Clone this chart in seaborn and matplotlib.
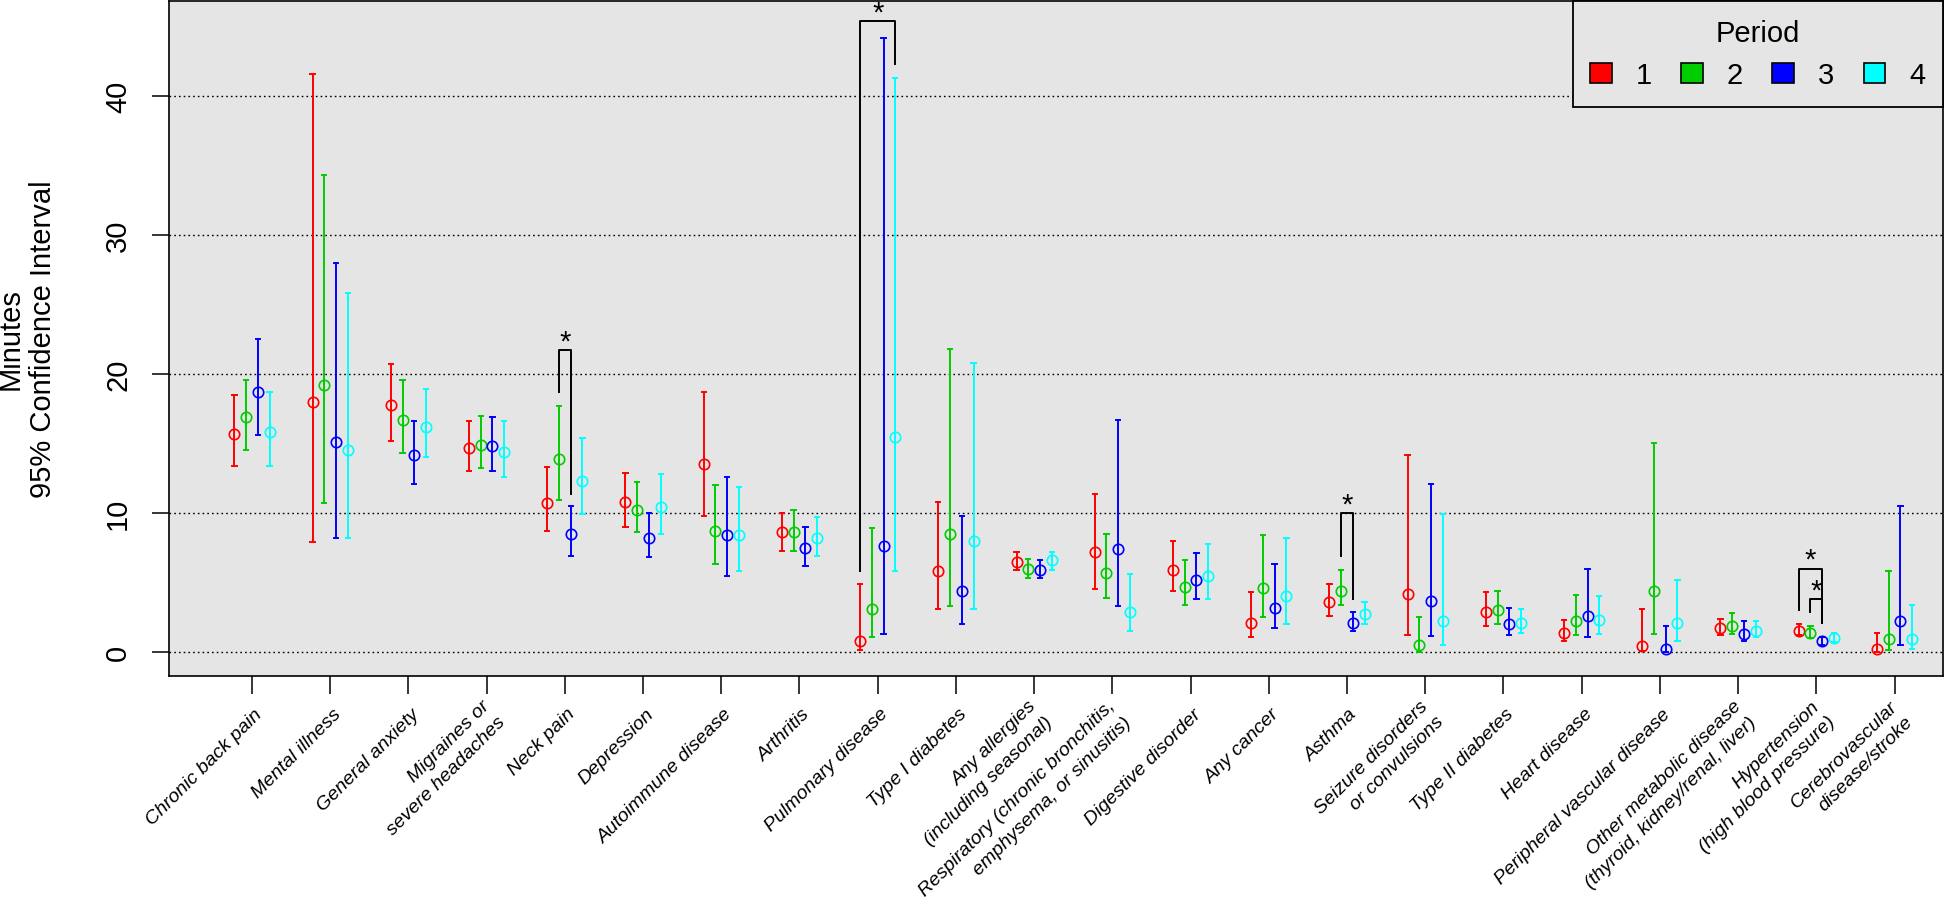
import numpy as np
import pandas as pd
import matplotlib
matplotlib.use("Agg")
import matplotlib.pyplot as plt
from matplotlib.patches import Patch
from matplotlib.transforms import ScaledTranslation
import seaborn as sns

# ---------------- data ----------------
categories = [
    "Chronic back pain", "Mental illness", "General anxiety",
    "Migraines or\nsevere headaches", "Neck pain", "Depression",
    "Autoimmune disease", "Arthritis", "Pulmonary disease", "Type I diabetes",
    "Any allergies\n(including seasonal)",
    "Respiratory (chronic bronchitis,\nemphysema, or sinusitis)",
    "Digestive disorder", "Any cancer", "Asthma",
    "Seizure disorders\nor convulsions", "Type II diabetes", "Heart disease",
    "Peripheral vascular disease",
    "Other metabolic disease\n(thyroid, kidney/renal, liver)",
    "Hypertension\n(high blood pressure)", "Cerebrovascular\ndisease/stroke",
]
periods = ["1", "2", "3", "4"]

p1_mid = [15.7, 18.0, 17.8, 14.7, 10.7, 10.8, 13.5, 8.6, 0.8, 5.8, 6.5, 7.2, 5.9, 2.1, 3.6, 4.2, 2.9, 1.4, 0.4, 1.7, 1.5, 0.25]
p1_lo = [13.4, 7.9, 15.2, 13.0, 8.7, 9.0, 9.8, 7.3, 0.15, 3.1, 5.9, 4.5, 4.4, 1.1, 2.6, 1.2, 1.9, 0.8, 0.1, 1.2, 1.2, 0.0]
p1_hi = [18.5, 41.6, 20.7, 16.6, 13.3, 12.9, 18.7, 10.0, 4.9, 10.8, 7.2, 11.4, 8.0, 4.3, 4.9, 14.2, 4.3, 2.3, 3.1, 2.4, 2.0, 1.4]

p2_mid = [16.9, 19.2, 16.7, 14.9, 13.9, 10.2, 8.7, 8.6, 3.1, 8.5, 6.0, 5.7, 4.7, 4.6, 4.4, 0.5, 3.0, 2.2, 4.4, 1.9, 1.4, 0.9]
p2_lo = [14.5, 10.7, 14.3, 13.2, 10.9, 8.6, 6.3, 7.3, 1.1, 3.3, 5.3, 3.9, 3.4, 2.5, 3.4, 0.03, 2.0, 1.2, 1.3, 1.3, 1.0, 0.15]
p2_hi = [19.6, 34.3, 19.6, 17.0, 17.7, 12.2, 12.0, 10.2, 8.9, 21.8, 6.7, 8.5, 6.6, 8.4, 5.9, 2.5, 4.4, 4.1, 15.0, 2.8, 1.9, 5.8]

p3_mid = [18.7, 15.1, 14.2, 14.8, 8.5, 8.2, 8.4, 7.5, 7.6, 4.4, 5.9, 7.4, 5.2, 3.2, 2.1, 3.7, 2.0, 2.6, 0.2, 1.3, 0.8, 2.2]
p3_lo = [15.6, 8.2, 12.1, 13.0, 6.9, 6.8, 5.5, 6.2, 1.3, 2.0, 5.3, 3.3, 3.8, 1.7, 1.5, 1.15, 1.2, 1.1, 0.03, 0.8, 0.5, 0.5]
p3_hi = [22.5, 28.0, 16.6, 16.9, 10.5, 10.0, 12.6, 9.0, 44.2, 9.8, 6.6, 16.7, 7.1, 6.3, 2.9, 12.1, 3.2, 6.0, 1.9, 2.2, 1.1, 10.5]

p4_mid = [15.8, 14.5, 16.2, 14.4, 12.3, 10.4, 8.4, 8.2, 15.5, 8.0, 6.6, 2.9, 5.5, 4.0, 2.7, 2.2, 2.1, 2.3, 2.1, 1.5, 1.0, 0.9]
p4_lo = [13.4, 8.2, 14.0, 12.6, 9.9, 8.5, 5.8, 6.9, 5.8, 3.1, 5.9, 1.5, 3.8, 2.0, 2.0, 0.5, 1.4, 1.3, 0.8, 1.1, 0.7, 0.25]
p4_hi = [18.7, 25.8, 18.9, 16.6, 15.4, 12.8, 11.9, 9.7, 41.3, 20.8, 7.2, 5.6, 7.8, 8.2, 3.6, 9.9, 3.1, 4.0, 5.2, 2.2, 1.4, 3.4]

# significance brackets: (category, left period, right period, top, left leg end, right leg end)
sig_cat = ["Neck pain", "Pulmonary disease", "Asthma",
           "Hypertension\n(high blood pressure)", "Hypertension\n(high blood pressure)"]
sig_left = ["2", "1", "2", "1", "2"]
sig_right = ["3", "4", "3", "3", "3"]
sig_top = [21.7, 45.4, 10.0, 6.0, 3.8]
sig_left_end = [18.7, 5.8, 6.9, 3.0, 2.9]
sig_right_end = [11.4, 42.3, 3.8, 2.1, 2.1]

colors = {"1": "#FF0000", "2": "#00CD00", "3": "#0000FF", "4": "#00FFFF"}
bg = "#E5E5E5"

# long table: low / mid / high per group -> median = estimate, 100% interval = CI
mids = [p1_mid, p2_mid, p3_mid, p4_mid]
los = [p1_lo, p2_lo, p3_lo, p4_lo]
his = [p1_hi, p2_hi, p3_hi, p4_hi]
rows = []
for p, m, lo, hi in zip(periods, mids, los, his):
    for c, a, b, d in zip(categories, lo, m, hi):
        for v in (a, b, d):
            rows.append({"category": c, "period": p, "minutes": v})
df = pd.DataFrame(rows)

# ---------------- figure ----------------
plt.rcParams["font.family"] = ["Liberation Sans", "DejaVu Sans"]
fig = plt.figure(figsize=(19.46, 9.03), dpi=100)
ax = fig.add_axes([169 / 1946, 1 - 677 / 903, (1943 - 169) / 1946, (677 - 2) / 903])
ax.set_facecolor(bg)

dodge = 0.45
sns.pointplot(
    data=df, x="category", y="minutes", hue="period",
    order=categories, hue_order=periods, palette=colors,
    estimator="median", errorbar=("pi", 100),
    dodge=dodge, linestyle="none", markers="o",
    capsize=0.055, err_kws={"linewidth": 1.4},
    markersize=7.5, markeredgewidth=1.2, markerfacecolor="none",
    legend=False, ax=ax, zorder=3,
)
for ln in ax.lines:
    if ln.get_marker() == "o":
        ln.set_markerfacecolor("none")

# grid
for yv in [0, 10, 20, 30, 40]:
    ax.axhline(yv, color="black", lw=1.0, ls=(0, (1.2, 2.2)), zorder=1)

ax.set_xlim(-1.061, 21.62)
ax.set_ylim(-1.727, 46.83)

# significance brackets
offsets = np.linspace(-dodge / 2, dodge / 2, len(periods))
for c, l, r, top, le, re in zip(sig_cat, sig_left, sig_right, sig_top, sig_left_end, sig_right_end):
    xc = categories.index(c)
    xl = xc + offsets[periods.index(l)]
    xr = xc + offsets[periods.index(r)]
    ax.plot([xl, xl, xr, xr], [le, top, top, re], color="black", lw=1.4, zorder=4)
    ax.text((xl + xr) / 2, top + 0.05, "*", ha="center", va="baseline",
            fontsize=21, color="black", zorder=5)

# axes styling
for s in ax.spines.values():
    s.set_linewidth(1.2)
    s.set_color("black")
ax.set_yticks([0, 10, 20, 30, 40])
ax.set_yticklabels(["0", "10", "20", "30", "40"])
ax.tick_params(axis="y", labelsize=21, length=12.5, width=1.1, pad=14, labelrotation=90)
for t in ax.get_yticklabels():
    t.set_va("center")

ax.set_xticks(range(len(categories)))
ax.set_xticklabels([])
ax.tick_params(axis="x", length=13, width=1.1)
lab_tr = ax.get_xaxis_transform() + ScaledTranslation(8 / 100, -35 / 100, fig.dpi_scale_trans)
for i, c in enumerate(categories):
    ax.text(i, 0, c, transform=lab_tr, rotation=45, ha="right", va="center",
            rotation_mode="anchor", fontsize=14, style="italic",
            multialignment="right", linespacing=1.4)
ax.set_xlabel("")

ax.set_ylabel("Minutes\n95% Confidence Interval", fontsize=21, linespacing=1.22)
ax.yaxis.set_label_coords(-0.063, 0.5)

# legend
handles = [Patch(facecolor=colors[p], edgecolor="black", linewidth=1.2, label=p) for p in periods]
leg = ax.legend(handles=handles, title="Period", ncol=4, loc="upper right",
                bbox_to_anchor=(1, 1), borderaxespad=0, frameon=True, fancybox=False,
                edgecolor="black", facecolor=bg, framealpha=1, fontsize=21,
                title_fontsize=21, handlelength=0.75, handleheight=0.65,
                handletextpad=0.82, columnspacing=1.0, borderpad=0.6)
leg.get_frame().set_linewidth(1.3)
leg.set_zorder(10)

fig.savefig("out.png", dpi=100, facecolor="white")
